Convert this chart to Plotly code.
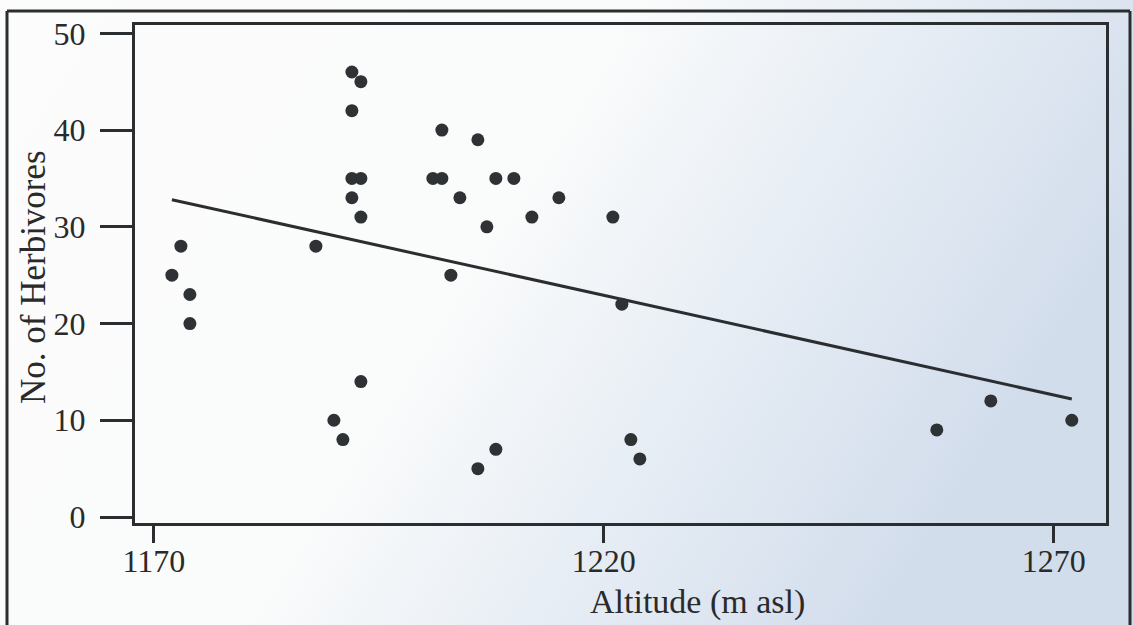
import base64
import plotly.graph_objects as go

# ---- data ----
altitude = [1172, 1173, 1174, 1174, 1188, 1190, 1191, 1192, 1193, 1192, 1192, 1193,
            1192, 1193, 1193, 1201, 1202, 1202, 1204, 1203, 1206, 1207, 1208, 1206,
            1208, 1210, 1212, 1215, 1221, 1222, 1223, 1224, 1257, 1263, 1272]
herbivores = [25, 28, 23, 20, 28, 10, 8, 46, 45, 42, 35, 35,
              33, 31, 14, 35, 35, 40, 33, 25, 39, 30, 35, 5,
              7, 35, 31, 33, 31, 22, 8, 6, 9, 12, 10]
trend_x = [1172, 1272]
trend_y = [32.8, 12.2]
x_ticks = [1170, 1220, 1270]
y_ticks = [0, 10, 20, 30, 40, 50]

W, H = 1133, 625
ML, MT, MR, MB = 135, 25, 27, 102
PW, PH = W - ML - MR, H - MT - MB


def px(x):
    return (x - ML) / PW


def py(y):
    return (H - MB - y) / PH


INK = "#2b2e30"
FONT = "Liberation Serif, Times New Roman, serif"

fig = go.Figure()
fig.add_trace(go.Scatter(x=trend_x, y=trend_y, mode="lines",
                         line=dict(color=INK, width=3), hoverinfo="skip",
                         showlegend=False))
fig.add_trace(go.Scatter(x=altitude, y=herbivores, mode="markers",
                         marker=dict(color="#2e3234", size=13), showlegend=False))

svg = ('<svg xmlns="http://www.w3.org/2000/svg" width="1133" height="625">'
       '<defs><linearGradient id="g" x1="0" y1="0" x2="1" y2="0.35">'
       '<stop offset="0" stop-color="#fcfcfc"/>'
       '<stop offset="0.5" stop-color="#fafbfb"/>'
       '<stop offset="0.72" stop-color="#e8eef5"/>'
       '<stop offset="1" stop-color="#d2ddec"/>'
       '</linearGradient></defs>'
       '<rect width="1133" height="625" fill="url(#g)"/></svg>')
src = "data:image/svg+xml;base64," + base64.b64encode(svg.encode()).decode()

axis_common = dict(showgrid=False, zeroline=False, showline=True, mirror=True,
                   linecolor=INK, linewidth=3, ticks="outside", tickcolor=INK,
                   tickwidth=3, tickfont=dict(family=FONT, size=32, color="#2a2a2a"))

fig.update_layout(
    width=W, height=H,
    margin=dict(l=ML, r=MR, t=MT, b=MB),
    paper_bgcolor="white",
    plot_bgcolor="rgba(0,0,0,0)",
    xaxis=dict(range=[1167.9, 1275.8], tickvals=x_ticks, ticklen=17,
               ticklabelstandoff=-9, **axis_common),
    yaxis=dict(range=[-0.62, 50.86], tickvals=y_ticks, ticklen=32,
               ticklabelstandoff=8, **axis_common),
    images=[dict(source=src, xref="paper", yref="paper", x=px(0), y=py(0),
                 sizex=W / PW, sizey=H / PH, sizing="stretch",
                 xanchor="left", yanchor="top", layer="below")],
    shapes=[
        dict(type="line", xref="paper", yref="paper", x0=px(7), x1=px(1130),
             y0=py(11), y1=py(11), line=dict(color=INK, width=3)),
        dict(type="line", xref="paper", yref="paper", x0=px(7), x1=px(7),
             y0=py(11), y1=py(640), line=dict(color=INK, width=3)),
        dict(type="line", xref="paper", yref="paper", x0=px(1130), x1=px(1130),
             y0=py(11), y1=py(640), line=dict(color=INK, width=3)),
    ],
    annotations=[
        dict(text="Altitude (m asl)", xref="paper", yref="paper",
             x=px(697), y=py(602), xanchor="center", yanchor="middle",
             showarrow=False, font=dict(family=FONT, size=34, color="#2a2a2a")),
        dict(text="No. of Herbivores", xref="paper", yref="paper",
             x=px(33), y=py(277), xanchor="center", yanchor="middle",
             textangle=-90, showarrow=False,
             font=dict(family=FONT, size=35, color="#2a2a2a")),
    ],
)

fig.write_html(
    "out.html",
    config={"displayModeBar": False},
    post_script="document.body.style.margin='0';document.body.style.overflow='hidden';",
)
